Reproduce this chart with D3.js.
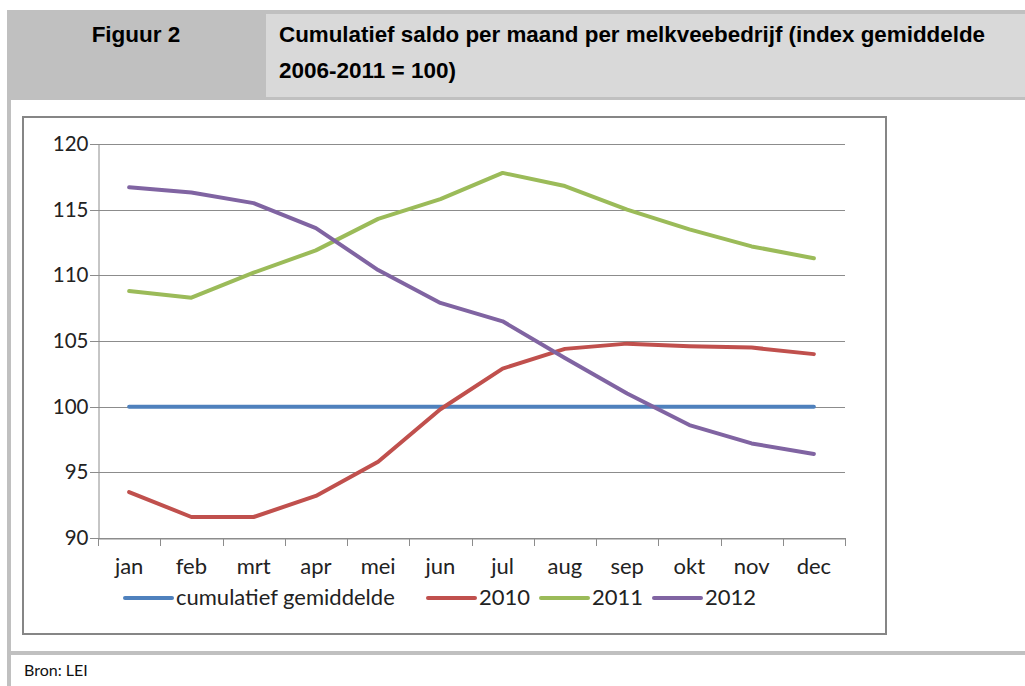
<!DOCTYPE html>
<html>
<head>
<meta charset="utf-8">
<script src="https://cdn.jsdelivr.net/npm/d3@7"></script>
<style>
    body { margin: 0; background: #fff; }
    svg { display: block; }
    .head { font-family: 'Liberation Sans', Arial, sans-serif; font-weight: bold; font-size: 22.5px; fill: #000; }
    .lbl { font-family: Lato, 'Open Sans', sans-serif; font-size: 22px; fill: #222; }
    .num { font-family: Lato, 'Open Sans', sans-serif; font-size: 20.5px; fill: #222; }
    .bron { font-family: Lato, 'Open Sans', sans-serif; font-size: 16px; fill: #111; }
</style>
</head>
<body>
<svg id="chart" width="1025" height="686"></svg>
<script>
(function(window) {
    'use strict';

    var months = ['jan','feb','mrt','apr','mei','jun','jul','aug','sep','okt','nov','dec'];
    var yTicks = [90, 95, 100, 105, 110, 115, 120];

    var gemiddelde = [100, 100, 100, 100, 100, 100, 100, 100, 100, 100, 100, 100];
    var y2010 = [93.5, 91.6, 91.6, 93.2, 95.8, 99.8, 102.9, 104.4, 104.8, 104.6, 104.5, 104.0];
    var y2011 = [108.8, 108.3, 110.2, 111.9, 114.3, 115.8, 117.8, 116.8, 115.0, 113.5, 112.2, 111.3];
    var y2012 = [116.7, 116.3, 115.5, 113.6, 110.4, 107.9, 106.5, 103.7, 101.0, 98.6, 97.2, 96.4];

    var seriesNames = ['cumulatief gemiddelde', '2010', '2011', '2012'];
    var seriesColors = ['#4f81bd', '#c0504d', '#9bbb59', '#8064a2'];
    var seriesValues = [gemiddelde, y2010, y2011, y2012];

    var svg = d3.select('#chart');

    /******************************************************************
        frame: header, borders, source
     ******************************************************************/
    svg.append('rect')
        .attr('x', 7).attr('y', 10)
        .attr('width', 1018).attr('height', 90)
        .attr('fill', '#c0c0c0');

    svg.append('rect')
        .attr('x', 266).attr('y', 14)
        .attr('width', 759).attr('height', 83)
        .attr('fill', '#d9d9d9');

    svg.append('rect')
        .attr('x', 7).attr('y', 100)
        .attr('width', 4).attr('height', 586)
        .attr('fill', '#c0c0c0');

    svg.append('rect')
        .attr('x', 7).attr('y', 651)
        .attr('width', 1018).attr('height', 4)
        .attr('fill', '#c0c0c0');

    svg.append('text')
        .attr('class', 'head')
        .attr('x', 136).attr('y', 42)
        .attr('text-anchor', 'middle')
        .text('Figuur 2');

    svg.append('text')
        .attr('class', 'head')
        .attr('x', 279).attr('y', 42)
        .attr('textLength', 706)
        .attr('lengthAdjust', 'spacingAndGlyphs')
        .text('Cumulatief saldo per maand per melkveebedrijf (index gemiddelde');

    svg.append('text')
        .attr('class', 'head')
        .attr('x', 279).attr('y', 78)
        .text('2006-2011 = 100)');

    svg.append('text')
        .attr('class', 'bron')
        .attr('x', 24).attr('y', 676)
        .text('Bron: LEI');

    svg.append('rect')
        .attr('x', 23).attr('y', 117)
        .attr('width', 863).attr('height', 517)
        .attr('fill', '#fff')
        .attr('stroke', '#868686')
        .attr('stroke-width', 2);

    /******************************************************************
        scales and axes
     ******************************************************************/
    var x = d3.scaleBand().domain(months).range([98, 845]);
    var y = d3.scaleLinear().domain([90, 120]).range([538, 144]);

    var plot = svg.append('g');

    plot.append('g')
        .attr('class', 'grid')
        .selectAll('line')
        .data(yTicks)
        .enter().append('line')
            .attr('x1', 90).attr('x2', 845)
            .attr('y1', function(d) { return Math.round(y(d)) + 0.5; })
            .attr('y2', function(d) { return Math.round(y(d)) + 0.5; })
            .attr('stroke', '#8c8c8c')
            .attr('stroke-width', 1);

    var yAxis = d3.axisLeft(y)
        .tickValues(yTicks)
        .tickSize(0)
        .tickPadding(10);

    plot.append('g')
        .attr('transform', 'translate(98.5,0)')
        .call(yAxis)
        .call(function(g) {
            g.select('.domain').attr('stroke', '#8c8c8c');
            g.selectAll('text').attr('class', 'num').attr('font-family', null).attr('font-size', null)
                .attr('fill', '#222');
        });

    var xAxis = d3.axisBottom(x)
        .tickSize(0)
        .tickPadding(20);

    plot.append('g')
        .attr('transform', 'translate(0,' + (Math.round(y(90)) + 0.5) + ')')
        .call(xAxis)
        .call(function(g) {
            g.select('.domain').attr('stroke', '#8c8c8c');
            g.selectAll('text').attr('class', 'lbl').attr('font-family', null).attr('font-size', null)
                .attr('fill', '#222');
        });

    // tick marks between the categories
    plot.append('g')
        .selectAll('line')
        .data(d3.range(months.length + 1))
        .enter().append('line')
            .attr('x1', function(i) { return Math.round(x.range()[0] + i * x.step()) + 0.5; })
            .attr('x2', function(i) { return Math.round(x.range()[0] + i * x.step()) + 0.5; })
            .attr('y1', y(90))
            .attr('y2', y(90) + 8)
            .attr('stroke', '#8c8c8c');

    /******************************************************************
        lines
     ******************************************************************/
    var line = d3.line()
        .x(function(d, i) { return x(months[i]) + x.bandwidth() / 2; })
        .y(function(d) { return y(d); });

    plot.append('g')
        .selectAll('path')
        .data(seriesValues)
        .enter().append('path')
            .attr('d', line)
            .attr('fill', 'none')
            .attr('stroke', function(d, i) { return seriesColors[i]; })
            .attr('stroke-width', 4)
            .attr('stroke-linecap', 'round')
            .attr('stroke-linejoin', 'round');

    /******************************************************************
        legend
     ******************************************************************/
    var legendX = [125, 428, 541, 654];

    var legend = svg.append('g')
        .selectAll('g')
        .data(seriesNames)
        .enter().append('g')
            .attr('transform', function(d, i) { return 'translate(' + legendX[i] + ',598)'; });

    legend.append('line')
        .attr('x1', 0).attr('x2', 47)
        .attr('stroke', function(d, i) { return seriesColors[i]; })
        .attr('stroke-width', 4)
        .attr('stroke-linecap', 'round');

    legend.append('text')
        .attr('class', 'lbl')
        .attr('x', 51)
        .attr('y', 7)
        .text(function(d) { return d; });

})(window);
</script>
</body>
</html>
